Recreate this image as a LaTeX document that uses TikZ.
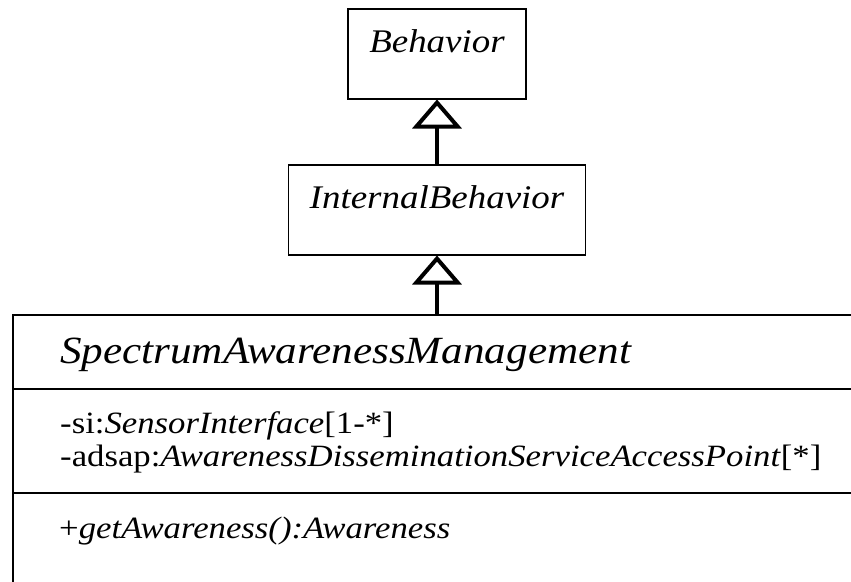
\documentclass[tikz,border=0pt]{standalone}
\usepackage{fontspec}
\setmainfont{Liberation Serif}[FakeStretch=1.12]
\usetikzlibrary{arrows.meta, positioning}

\begin{document}
\begin{tikzpicture}[
        x=1pt, y=-1pt,
        classbox/.style={rectangle, draw=black, line width=1.5pt, inner sep=0pt, text height=44pt, text depth=46pt, font=\fontsize{33}{36}\selectfont\itshape},
        member/.style={anchor=base west, inner sep=0pt, font=\fontsize{31}{34}\selectfont},
        classline/.style={draw=black, line width=1.5pt},
        inherit/.style={line width=4pt, -{Triangle[open, length=29pt, width=49pt]}}
    ]
    \useasboundingbox (0,0) rectangle (851,581);

    % Parent classes
    \node[classbox, minimum width=178pt, anchor=north] (Behavior) at (437,8) {Behavior};
    \node[classbox, minimum width=297pt, anchor=north] (IntBeh) at (437,164) {InternalBehavior};

    % Main class (runs off the right and bottom edges)
    \node[classline, rectangle, minimum width=900pt, minimum height=300pt, anchor=north west] (SAM) at (12,314) {};
    \draw[classline] (SAM.west |- 0,389) -- (SAM.east |- 0,389);
    \draw[classline] (SAM.west |- 0,493) -- (SAM.east |- 0,493);

    \node[member, font=\fontsize{38.5}{40}\selectfont\itshape] (SAMname) at (60,363) {SpectrumAwarenessManagement};
    \node[member] (attrSi) at (60,433) {-si:\textit{SensorInterface}[1-*]};
    \node[member] (attrAdsap) at (60,466) {-adsap:\textit{AwarenessDisseminationServiceAccessPoint}[*]};
    \node[member] (opGet) at (59,538) {+\textit{getAwareness():Awareness}};

    % Generalisations
    \draw[inherit] (IntBeh) -- (Behavior);
    \draw[inherit] (SAM.north -| IntBeh) -- (IntBeh);
\end{tikzpicture}
\end{document}
